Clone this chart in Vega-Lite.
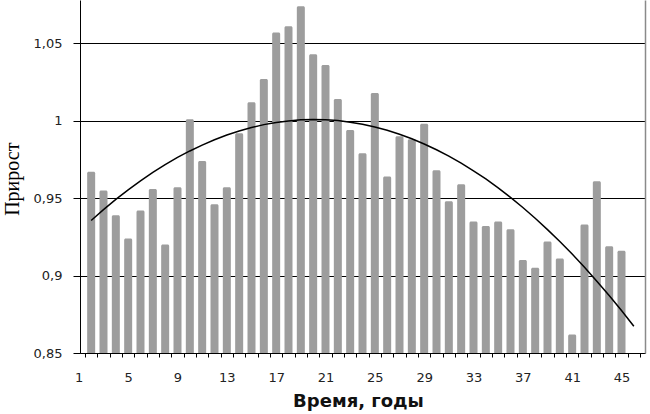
{
  "$schema": "https://vega.github.io/schema/vega-lite/v6.json",
  "width": 565,
  "height": 353,
  "autosize": {"type": "none"},
  "padding": {"left": 80, "top": 0, "right": 5, "bottom": 61},
  "background": "white",
  "config": {
    "view": {"stroke": null},
    "axis": {
      "domainColor": "black",
      "tickColor": "black",
      "labelFont": "DejaVu Sans",
      "labelFontSize": 13,
      "labelColor": "#222",
      "titleColor": "#111"
    }
  },
  "data": {
    "values": [
      {"year": 2, "growth": 0.967, "trend": 0.9356},
      {"year": 3, "growth": 0.955, "trend": 0.9426},
      {"year": 4, "growth": 0.939, "trend": 0.9492},
      {"year": 5, "growth": 0.924, "trend": 0.9554},
      {"year": 6, "growth": 0.942, "trend": 0.9612},
      {"year": 7, "growth": 0.956, "trend": 0.9667},
      {"year": 8, "growth": 0.920, "trend": 0.9717},
      {"year": 9, "growth": 0.957, "trend": 0.9763},
      {"year": 10, "growth": 1.001, "trend": 0.9805},
      {"year": 11, "growth": 0.974, "trend": 0.9843},
      {"year": 12, "growth": 0.946, "trend": 0.9877},
      {"year": 13, "growth": 0.957, "trend": 0.9908},
      {"year": 14, "growth": 0.992, "trend": 0.9934},
      {"year": 15, "growth": 1.012, "trend": 0.9956},
      {"year": 16, "growth": 1.027, "trend": 0.9975},
      {"year": 17, "growth": 1.057, "trend": 0.9989},
      {"year": 18, "growth": 1.061, "trend": 0.9999},
      {"year": 19, "growth": 1.074, "trend": 1.0006},
      {"year": 20, "growth": 1.043, "trend": 1.0008},
      {"year": 21, "growth": 1.036, "trend": 1.0006},
      {"year": 22, "growth": 1.014, "trend": 1.0001},
      {"year": 23, "growth": 0.994, "trend": 0.9991},
      {"year": 24, "growth": 0.979, "trend": 0.9978},
      {"year": 25, "growth": 1.018, "trend": 0.9960},
      {"year": 26, "growth": 0.964, "trend": 0.9939},
      {"year": 27, "growth": 0.990, "trend": 0.9913},
      {"year": 28, "growth": 0.988, "trend": 0.9884},
      {"year": 29, "growth": 0.998, "trend": 0.9850},
      {"year": 30, "growth": 0.968, "trend": 0.9813},
      {"year": 31, "growth": 0.948, "trend": 0.9772},
      {"year": 32, "growth": 0.959, "trend": 0.9726},
      {"year": 33, "growth": 0.935, "trend": 0.9677},
      {"year": 34, "growth": 0.932, "trend": 0.9624},
      {"year": 35, "growth": 0.935, "trend": 0.9566},
      {"year": 36, "growth": 0.930, "trend": 0.9505},
      {"year": 37, "growth": 0.910, "trend": 0.9440},
      {"year": 38, "growth": 0.905, "trend": 0.9370},
      {"year": 39, "growth": 0.922, "trend": 0.9297},
      {"year": 40, "growth": 0.911, "trend": 0.9220},
      {"year": 41, "growth": 0.862, "trend": 0.9139},
      {"year": 42, "growth": 0.933, "trend": 0.9054},
      {"year": 43, "growth": 0.961, "trend": 0.8964},
      {"year": 44, "growth": 0.919, "trend": 0.8871},
      {"year": 45, "growth": 0.916, "trend": 0.8774},
      {"year": 46, "growth": null, "trend": 0.8673}
    ]
  },
  "encoding": {
    "x": {
      "field": "year",
      "type": "quantitative",
      "scale": {"domain": [1.5, 46.5], "nice": false, "zero": false},
      "axis": {
        "title": "Время, годы",
        "titleFont": "DejaVu Sans",
        "titleFontSize": 18,
        "titleFontWeight": "bold",
        "titleX": 278,
        "titleY": 53,
        "titleBaseline": "alphabetic",
        "titleAlign": "center",
        "grid": false,
        "values": [1.5, 2.5, 3.5, 4.5, 5.5, 6.5, 7.5, 8.5, 9.5, 10.5, 11.5, 12.5, 13.5, 14.5, 15.5, 16.5, 17.5, 18.5, 19.5, 20.5, 21.5, 22.5, 23.5, 24.5, 25.5, 26.5, 27.5, 28.5, 29.5, 30.5, 31.5, 32.5, 33.5, 34.5, 35.5, 36.5, 37.5, 38.5, 39.5, 40.5, 41.5, 42.5, 43.5, 44.5, 45.5, 46.5, 5, 9, 13, 17, 21, 25, 29, 33, 37, 41, 45],
        "labelExpr": "datum.value == 1.5 ? '1' : (datum.value % 1 == 0 ? datum.label : '')",
        "labelOffset": {"condition": {"test": "datum.value == 1.5", "value": -6.3}, "value": 0},
        "tickOpacity": {"condition": {"test": "datum.value % 1 == 0", "value": 0}, "value": 1},
        "tickSize": 4,
        "labelPadding": 14,
        "labelFlush": false,
        "labelOverlap": false,
        "labelBound": false,
        "labelAngle": 0
      }
    }
  },
  "layer": [
    {
      "mark": {"type": "bar", "color": "#9d9d9d", "size": 8, "cornerRadiusTopLeft": 1.5, "cornerRadiusTopRight": 1.5},
      "encoding": {
        "y": {
          "field": "growth",
          "type": "quantitative",
          "scale": {"domain": [0.85, 1.078], "nice": false, "zero": false},
          "axis": {
            "title": "Прирост",
            "titleFont": "Liberation Serif",
            "titleFontSize": 20,
            "titleFontWeight": "normal",
            "titleColor": "black",
            "titleAngle": -90,
            "titleX": -61.5,
            "titleY": 178.7,
            "titleBaseline": "alphabetic",
            "titleAlign": "center",
            "values": [0.85, 0.9, 0.95, 1, 1.05],
            "labelExpr": "replace(format(datum.value, '.2~f'), '.', ',')",
            "grid": true,
            "gridColor": "black",
            "gridWidth": 1,
            "gridOpacity": 1,
            "tickSize": 7,
            "labelPadding": 11
          }
        },
        "y2": {"datum": 0.85}
      }
    },
    {
      "mark": {"type": "line", "color": "black", "strokeWidth": 1.5},
      "encoding": {
        "y": {
          "field": "trend",
          "type": "quantitative",
          "axis": {
            "orient": "right",
            "title": null,
            "labels": false,
            "ticks": false,
            "grid": false,
            "domainColor": "#8a8a8a",
            "domainWidth": 1.5
          }
        }
      }
    }
  ],
  "resolve": {"axis": {"y": "independent"}}
}
